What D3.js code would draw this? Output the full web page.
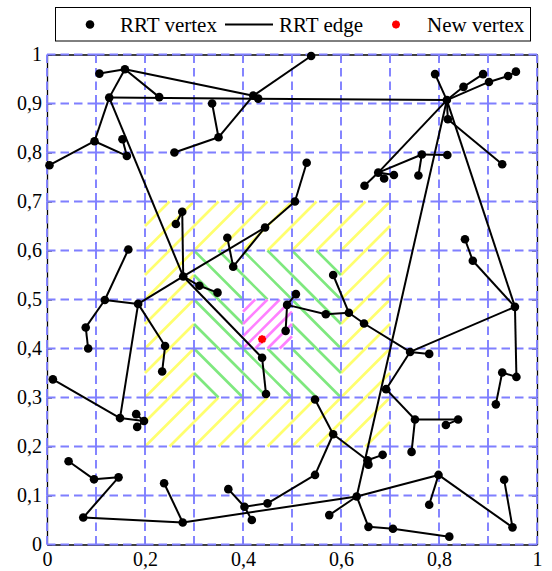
<!DOCTYPE html>
<html>
<head>
<meta charset="utf-8">
<script src="https://cdn.jsdelivr.net/npm/d3@7"></script>
<style>
body { margin: 0; background: #fff; }
text { font-family: "Liberation Serif", "Times New Roman", serif; }
</style>
</head>
<body>
<div id="chart"></div>
<script>
// RRT tree vertices (data units)
const vertexX = [0.107, 0.159, 0.127, 0.229, 0.337, 0.350, 0.097, 0.154, 0.163, 0.005,
    0.260, 0.276, 0.263, 0.421, 0.431, 0.539, 0.530, 0.506, 0.445, 0.368,
    0.380, 0.278, 0.816, 0.792, 0.850, 0.890, 0.902, 0.941, 0.957, 0.818,
    0.929, 0.648, 0.676, 0.688, 0.708, 0.765, 0.817, 0.758, 0.853, 0.869,
    0.955, 0.741, 0.780, 0.692, 0.958, 0.929, 0.916, 0.751, 0.839, 0.814,
    0.744, 0.685, 0.799, 0.780, 0.933, 0.950, 0.706, 0.821, 0.656, 0.654,
    0.656, 0.632, 0.576, 0.547, 0.584, 0.547, 0.450, 0.403, 0.370, 0.418,
    0.277, 0.239, 0.074, 0.146, 0.096, 0.044, 0.012, 0.149, 0.182, 0.198,
    0.184, 0.166, 0.118, 0.186, 0.079, 0.084, 0.241, 0.235, 0.311, 0.348,
    0.439, 0.447, 0.508, 0.490, 0.487, 0.569, 0.616, 0.647, 0.584]
const vertexY = [0.961, 0.970, 0.912, 0.913, 0.900, 0.831, 0.823, 0.827, 0.793, 0.774,
    0.800, 0.679, 0.654, 0.916, 0.910, 0.997, 0.779, 0.700, 0.647, 0.626,
    0.567, 0.547, 0.907, 0.960, 0.934, 0.960, 0.944, 0.956, 0.965, 0.868,
    0.776, 0.732, 0.759, 0.747, 0.754, 0.796, 0.795, 0.753, 0.623, 0.579,
    0.485, 0.393, 0.389, 0.317, 0.342, 0.351, 0.286, 0.255, 0.255, 0.244,
    0.189, 0.183, 0.142, 0.081, 0.132, 0.035, 0.032, 0.016, 0.036, 0.172,
    0.163, 0.098, 0.060, 0.142, 0.225, 0.296, 0.084, 0.077, 0.113, 0.050,
    0.045, 0.125, 0.055, 0.137, 0.133, 0.170, 0.337, 0.258, 0.266, 0.252,
    0.240, 0.602, 0.499, 0.491, 0.443, 0.400, 0.405, 0.353, 0.528, 0.514,
    0.381, 0.307, 0.511, 0.489, 0.436, 0.470, 0.473, 0.451, 0.550]

// RRT edges (vertex indices)
const edgeFrom = [0, 1, 1, 2, 2, 2, 6, 6, 8, 2, 4, 5, 5, 13, 13, 11, 11, 16, 17, 18, 18, 19,
    22, 22, 24, 22, 26, 27, 22, 29, 22, 32, 32, 32, 32, 35, 35, 22, 22,
    40, 39, 40, 41, 41, 41, 40, 44, 45, 43, 47, 48, 47, 51, 59, 52, 52, 54, 61,
    56, 58, 61, 61, 70, 64, 64, 64, 63, 66, 67, 67, 72, 70, 73, 74, 75, 76, 77,
    79, 79, 77, 81, 82, 82, 84, 83, 83, 86, 21, 88, 21, 90, 92, 93, 93, 95, 98, 96]
const edgeTo = [1, 3, 13, 1, 22, 6, 9, 8, 7, 21, 5, 10, 13, 15, 14, 21, 12, 17, 18, 21, 20, 20,
    23, 24, 25, 26, 27, 28, 29, 30, 32, 31, 33, 34, 35, 36, 37, 61, 40,
    39, 38, 41, 42, 97, 43, 44, 45, 46, 47, 48, 49, 50, 59, 60, 53, 55, 55, 52,
    57, 56, 58, 62, 61, 65, 59, 63, 66, 67, 68, 69, 70, 71, 72, 73, 74, 77, 79,
    78, 80, 83, 82, 83, 84, 85, 21, 86, 87, 88, 89, 90, 91, 93, 94, 95, 96, 96, 97]

const newVertexX = [0.439]
const newVertexY = [0.419]

// hatched cells: lower-left corners of 0.1 x 0.1 cells
const yellowCellX = [0.2, 0.3, 0.4, 0.5, 0.6, 0.2, 0.6, 0.2, 0.6, 0.2, 0.6, 0.2, 0.3, 0.4, 0.5, 0.6]
const yellowCellY = [0.2, 0.2, 0.2, 0.2, 0.2, 0.3, 0.3, 0.4, 0.4, 0.5, 0.5, 0.6, 0.6, 0.6, 0.6, 0.6]
const greenCellX = [0.3, 0.4, 0.5, 0.3, 0.5, 0.3, 0.4, 0.5]
const greenCellY = [0.3, 0.3, 0.3, 0.4, 0.4, 0.5, 0.5, 0.5]
const magentaCellX = [0.4]
const magentaCellY = [0.4]

const gridValues = [0, 0.1, 0.2, 0.3, 0.4, 0.5, 0.6, 0.7, 0.8, 0.9, 1]
const xTicks = [0, 0.2, 0.4, 0.6, 0.8, 1]
const xTickLabels = ["0", "0,2", "0,4", "0,6", "0,8", "1"]
const yTicks = [0, 0.1, 0.2, 0.3, 0.4, 0.5, 0.6, 0.7, 0.8, 0.9, 1]
const yTickLabels = ["0", "0,1", "0,2", "0,3", "0,4", "0,5", "0,6", "0,7", "0,8", "0,9", "1"]

var width = 552, height = 571
var plot = { left: 47, right: 537, top: 54.5, bottom: 544.5 }
var cell = 0.1
var serif = "'Liberation Serif', 'Times New Roman', serif"

var x = d3.scaleLinear().domain([0, 1]).range([plot.left, plot.right])
var y = d3.scaleLinear().domain([0, 1]).range([plot.bottom, plot.top])

var svg = d3.select("#chart").append("svg")
    .attr("width", width)
    .attr("height", height)

// hatch segments in cell units, "/" : v - u = k ; "\" : u + v = c
function slashSegs(offsets) {
    return offsets.map(function (k) {
        return k >= 0 ? [[0, k], [1 - k, 1]] : [[-k, 0], [1, 1 + k]]
    })
}
function backSegs(offsets) {
    return offsets.map(function (c) {
        return c <= 1 ? [[0, c], [c, 0]] : [[c - 1, 1], [1, c - 1]]
    })
}

function drawHatch(cx, cy, segs, color, lw) {
    var lines = []
    cx.forEach(function (x0, i) {
        segs.forEach(function (s) {
            lines.push([x0 + s[0][0] * cell, cy[i] + s[0][1] * cell, x0 + s[1][0] * cell, cy[i] + s[1][1] * cell])
        })
    })
    svg.append("g").selectAll("line").data(lines).enter().append("line")
        .attr("x1", function (d) { return x(d[0]) })
        .attr("y1", function (d) { return y(d[1]) })
        .attr("x2", function (d) { return x(d[2]) })
        .attr("y2", function (d) { return y(d[3]) })
        .attr("stroke", color)
        .attr("stroke-width", lw)
}

drawHatch(yellowCellX, yellowCellY, slashSegs([0.5, 0, -0.5]), "#ffff6e", 2.6)
drawHatch(greenCellX, greenCellY, backSegs([0.5, 1, 1.5]), "#7ee87e", 2.6)
drawHatch(magentaCellX, magentaCellY, slashSegs([0.75, 0.5, 0.25, 0, -0.25, -0.5, -0.75]), "#ff80ff", 2.6)

// axes frame
var axG = svg.append("g")
axG.append("g").attr("transform", "translate(0," + plot.bottom + ")")
    .call(d3.axisBottom(x).tickValues(xTicks).tickFormat(function (d, i) { return xTickLabels[i] })
        .tickSizeInner(-5).tickSizeOuter(0).tickPadding(7))
axG.append("g").attr("transform", "translate(0," + plot.top + ")")
    .call(d3.axisTop(x).tickValues(xTicks).tickFormat("").tickSizeInner(-5).tickSizeOuter(0))
axG.append("g").attr("transform", "translate(" + plot.left + ",0)")
    .call(d3.axisLeft(y).tickValues(yTicks).tickFormat(function (d, i) { return yTickLabels[i] })
        .tickSizeInner(-5).tickSizeOuter(0).tickPadding(5))
axG.append("g").attr("transform", "translate(" + plot.right + ",0)")
    .call(d3.axisRight(y).tickValues(yTicks).tickFormat("").tickSizeInner(-5).tickSizeOuter(0))
axG.selectAll("g").attr("font-family", serif)
axG.selectAll(".domain").attr("stroke", "#000").attr("stroke-width", 1.3)
axG.selectAll(".tick line").attr("stroke", "#000").attr("stroke-width", 1)
axG.selectAll(".tick text").attr("font-size", 20).attr("fill", "#000")
    .attr("font-family", serif)

// dashed cell grid: one segment per cell edge
var gridSegs = []
for (var i = 0; i < gridValues.length; i++) {
    for (var j = 0; j < gridValues.length - 1; j++) {
        gridSegs.push([gridValues[j], gridValues[i], gridValues[j + 1], gridValues[i]])
        gridSegs.push([gridValues[i], gridValues[j], gridValues[i], gridValues[j + 1]])
    }
}
svg.append("g").selectAll("line").data(gridSegs).enter().append("line")
    .attr("x1", function (d) { return x(d[0]) })
    .attr("y1", function (d) { return y(d[1]) })
    .attr("x2", function (d) { return x(d[2]) })
    .attr("y2", function (d) { return y(d[3]) })
    .attr("stroke", "#7f7fff")
    .attr("stroke-width", 1.9)
    .attr("stroke-dasharray", "8.5,5")

// edges
svg.append("g").selectAll("line").data(edgeFrom).enter().append("line")
    .attr("x1", function (d) { return x(vertexX[d]) })
    .attr("y1", function (d) { return y(vertexY[d]) })
    .attr("x2", function (d, i) { return x(vertexX[edgeTo[i]]) })
    .attr("y2", function (d, i) { return y(vertexY[edgeTo[i]]) })
    .attr("stroke", "#000")
    .attr("stroke-width", 2)

// vertices
svg.append("g").selectAll("circle").data(vertexX).enter().append("circle")
    .attr("cx", function (d) { return x(d) })
    .attr("cy", function (d, i) { return y(vertexY[i]) })
    .attr("r", 4.3)
    .attr("fill", "#000")

// red asterisk marker
function asterisk(cx, cy, r) {
    var p = ""
    for (var a = 0; a < 4; a++) {
        var t = a * Math.PI / 4
        p += "M" + (cx - r * Math.cos(t)) + "," + (cy - r * Math.sin(t)) +
            "L" + (cx + r * Math.cos(t)) + "," + (cy + r * Math.sin(t))
    }
    return p
}
svg.append("g").selectAll("path").data(newVertexX).enter().append("path")
    .attr("d", function (d, i) { return asterisk(x(d), y(newVertexY[i]), 4) })
    .attr("stroke", "#ff0000")
    .attr("stroke-width", 2.4)
    .attr("fill", "none")

// legend
var lg = svg.append("g").attr("font-family", serif)
lg.append("rect").attr("x", 55.5).attr("y", 7.5).attr("width", 475).attr("height", 33.5)
    .attr("fill", "#fff").attr("stroke", "#000").attr("stroke-width", 1)
lg.append("circle").attr("cx", 90).attr("cy", 24.5).attr("r", 4.3).attr("fill", "#000")
lg.append("text").attr("x", 120).attr("y", 32).attr("font-size", 21).attr("font-family", serif).text("RRT vertex")
lg.append("line").attr("x1", 225).attr("x2", 273).attr("y1", 24.5).attr("y2", 24.5)
    .attr("stroke", "#000").attr("stroke-width", 2)
lg.append("text").attr("x", 279).attr("y", 32).attr("font-size", 21).attr("font-family", serif).text("RRT edge")
lg.append("path").attr("d", asterisk(396, 24.5, 4))
    .attr("stroke", "#ff0000").attr("stroke-width", 2.4).attr("fill", "none")
lg.append("text").attr("x", 427).attr("y", 32).attr("font-size", 21).attr("font-family", serif).text("New vertex")
</script>
</body>
</html>
